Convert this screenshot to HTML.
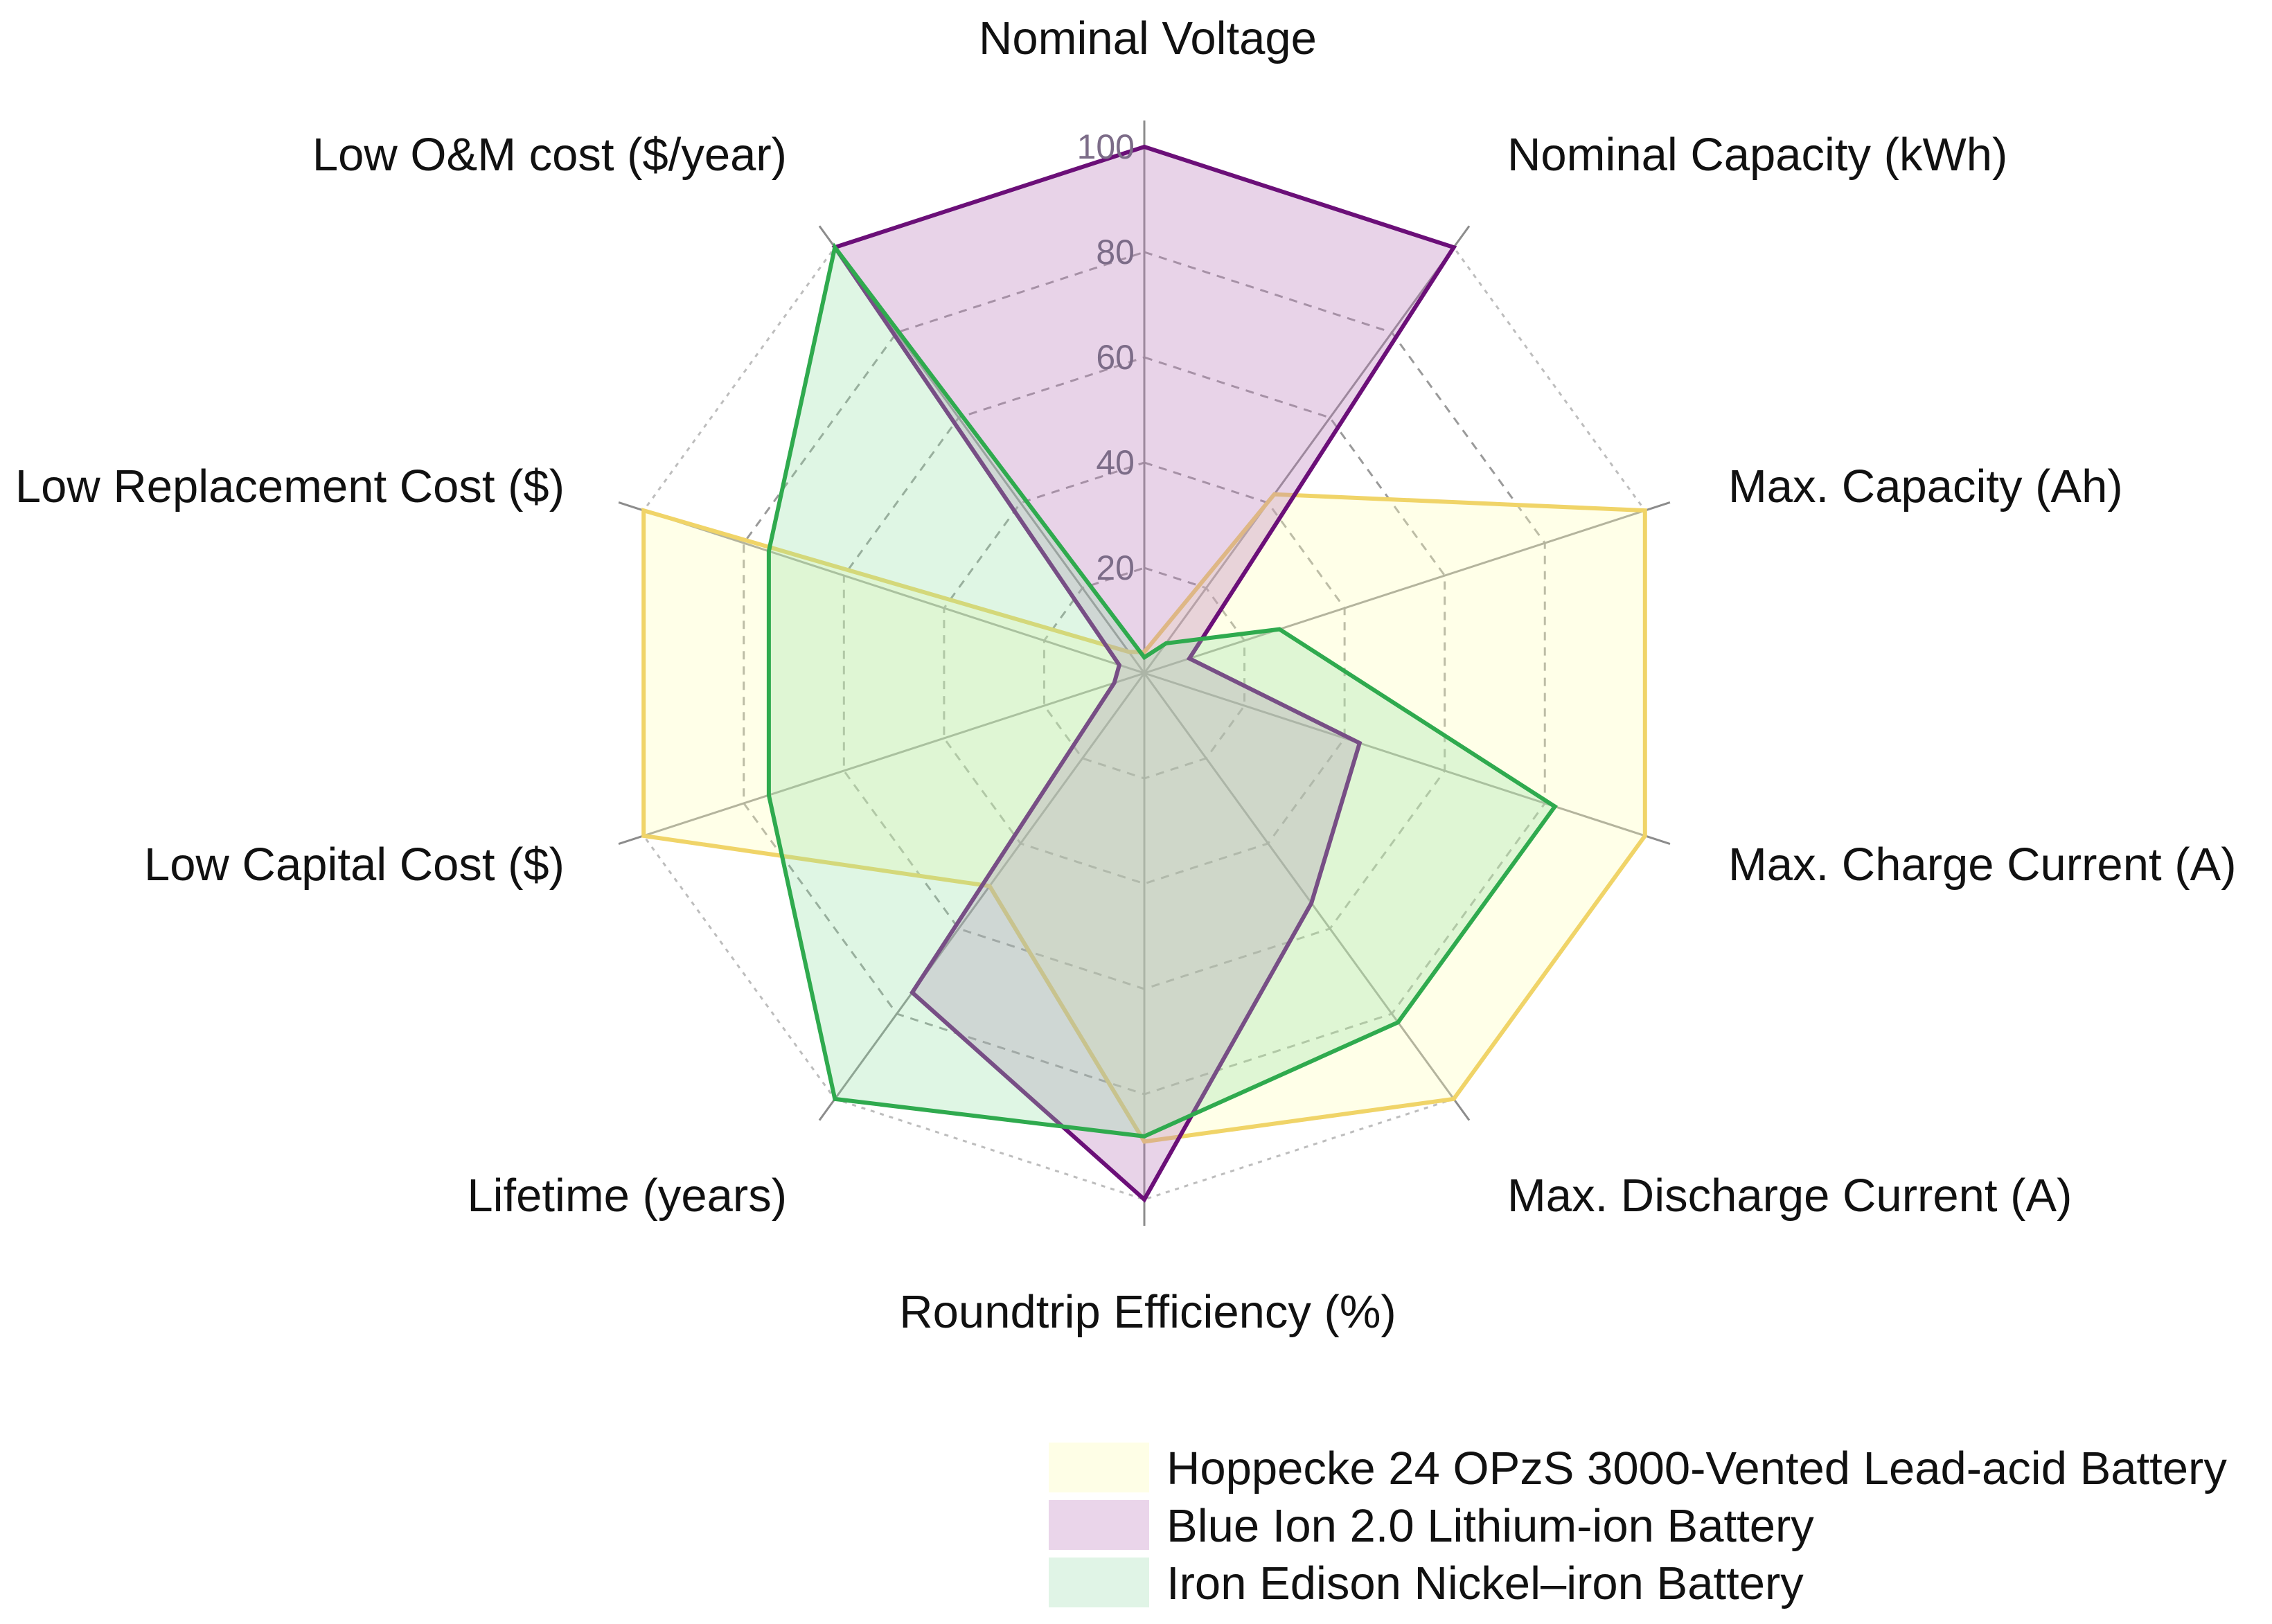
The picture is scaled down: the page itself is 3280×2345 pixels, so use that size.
<!DOCTYPE html>
<html><head><meta charset="utf-8"><style>
html,body{margin:0;padding:0;background:#fff;}
svg{display:block;font-family:"Liberation Sans",sans-serif;}
</style></head><body>
<svg id="chart" width="3280" height="2345" viewBox="0 0 3280 2345">
<g id="grid"></g>
<g id="series"></g>
<g id="ticks"></g>
<g id="labels"></g>
<g id="legend"></g>
</svg>
<script>
const categories = ["Nominal Voltage","Nominal Capacity (kWh)","Max. Capacity (Ah)","Max. Charge Current (A)","Max. Discharge Current (A)","Roundtrip Efficiency (%)","Lifetime (years)","Low Capital Cost ($)","Low Replacement Cost ($)","Low O&M cost ($/year)"];
const seriesNames = ["Hoppecke 24 OPzS 3000-Vented Lead-acid Battery","Blue Ion 2.0 Lithium-ion Battery","Iron Edison Nickel–iron Battery"];
const hoppecke = [4,42,100,100,100,89,50,100,100,5];
const blueIon = [100,100,9,43,54,100,75,6,5,100];
const ironEdison = [3,7,27,82,82,88,100,75,75,100];
const tickValues = [20,40,60,80,100];
const tickLabels = ["20","40","60","80","100"];

const NS="http://www.w3.org/2000/svg";
const cx=1652, cy=972, R=760;
function rScale(v){return v/100*R;}
function angle(i){return (i*2*Math.PI)/categories.length;}
function pt(i,v){const a=angle(i),r=rScale(v);return [cx+r*Math.sin(a), cy-r*Math.cos(a)];}
function mk(tag,attrs,parent){const e=document.createElementNS(NS,tag);for(const k in attrs)e.setAttribute(k,attrs[k]);parent.appendChild(e);return e;}

const grid=document.getElementById('grid');
tickValues.forEach((t,k)=>{
  const pts=categories.map((c,i)=>pt(i,t).join(',')).join(' ');
  const g=mk('polygon',{points:pts,fill:'none',stroke:t===100?'#bdbdbd':'#9a9a9a','stroke-width':3,'stroke-dasharray':t===100?'6,8':'12,10'},grid);
  
  
});
categories.forEach((c,i)=>{
  const [x,y]=pt(i,105);
  const l=mk('line',{x1:cx,y1:cy,x2:x,y2:y,stroke:'#8c8c8c','stroke-width':3},grid);
  
  
});

const seriesDefs=[
 {vals:hoppecke,stroke:'#f0d468',fill:'rgba(255,255,190,0.35)',name:'hoppecke'},
 {vals:blueIon,stroke:'#6b0f78',fill:'rgba(190,130,190,0.35)',name:'blue-ion'},
 {vals:ironEdison,stroke:'#2faa4e',fill:'rgba(150,225,165,0.3)',name:'iron-edison'}
];
const sg=document.getElementById('series');
seriesDefs.forEach(s=>{
  const pts=s.vals.map((v,i)=>pt(i,v).join(',')).join(' ');
  const p=mk('polygon',{points:pts,fill:s.fill,stroke:s.stroke,'stroke-width':6,'stroke-linejoin':'miter'},sg);
  
  
});

const tg=document.getElementById('ticks');
tickValues.forEach((t,k)=>{
  const tx=mk('text',{x:cx-14,y:cy-rScale(t)+17,'text-anchor':'end','font-size':50,fill:'#7c6c88'},tg);
  tx.textContent=tickLabels[k];
  
  
});

const labelPos=[[1657,78,'middle'],[2176,246,'start'],[2495,725,'start'],[2495,1271,'start'],[2176,1749,'start'],[1657,1917,'middle'],[1136,1749,'end'],[815,1271,'end'],[815,725,'end'],[1136,246,'end']];
const lg=document.getElementById('labels');
categories.forEach((c,i)=>{
  const p=labelPos[i];
  const t=mk('text',{x:p[0],y:p[1],'text-anchor':p[2],'font-size':67,fill:'#111'},lg);
  t.textContent=c;
  
  
});

const leg=document.getElementById('legend');
const legFills=['#fefee6','#ead5ea','#e0f4e6'];
const legY=[2083,2166,2249];
seriesNames.forEach((n,i)=>{
  const r=mk('rect',{x:1514,y:legY[i],width:145,height:72,fill:legFills[i]},leg);
  
  
  const t=mk('text',{x:1684,y:legY[i]+60,'font-size':67,fill:'#111'},leg);
  t.textContent=n;
  
  
});
</script>
</body></html>
